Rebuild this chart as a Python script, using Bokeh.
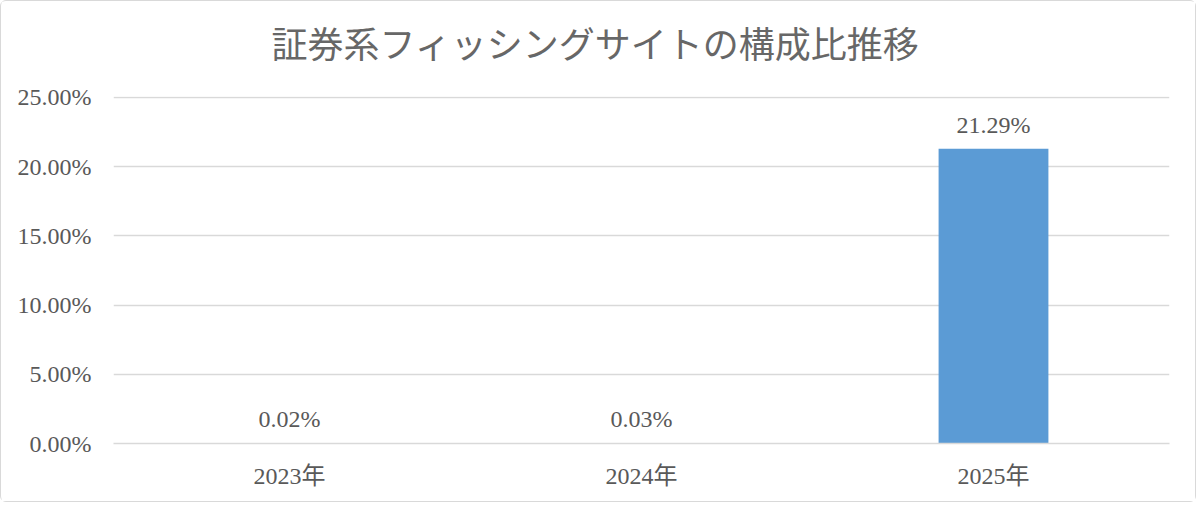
from bokeh.plotting import figure
from bokeh.models import ColumnDataSource, FactorRange, Range1d, FixedTicker, PrintfTickFormatter
from bokeh.core.properties import value
from bokeh.embed import file_html
from bokeh.resources import INLINE

title_text = "証券系フィッシングサイトの構成比推移"
years = ["2023年", "2024年", "2025年"]
shares = [0.02, 0.03, 21.29]
share_labels = ["0.02%", "0.03%", "21.29%"]
y_ticks = [0, 5, 10, 15, 20, 25]

SERIF = "Liberation Serif, Noto Sans CJK JP"
TEXT = "#595959"
GRID = "#D9D9D9"
BAR = "#5B9BD5"

source = ColumnDataSource(dict(year=years, share=shares, label=share_labels))

p = figure(
    width=1196, height=502,
    x_range=FactorRange(*years, range_padding=0),
    y_range=Range1d(0, 25.06),
    output_backend="svg", toolbar_location=None,
    min_border_left=112, min_border_right=28, min_border_top=95, min_border_bottom=60,
)
p.styles = {"border": "1.5px solid #D9D9D9", "border-radius": "6px"}
p.outline_line_color = None
p.background_fill_color = "white"
p.border_fill_color = "white"

p.title.text = title_text
p.title.align = "left"
p.title.text_font = "Noto Sans CJK JP"
p.title.text_font_size = "36px"
p.title.text_font_style = "normal"
p.title.text_color = "#676767"
p.title.offset = 158
p.title.standoff = 10
p.title.padding = dict(left=0, right=0, top=0, bottom=24)

p.vbar(x="year", top="share", width=0.312, source=source, fill_color=BAR, line_color=None)
p.text(x="year", y="share", text="label", source=source,
       text_align="center", text_baseline="alphabetic", y_offset=-24,
       text_font=value(SERIF), text_font_size="24px", text_color=TEXT)

p.yaxis.ticker = FixedTicker(ticks=y_ticks)
p.yaxis.formatter = PrintfTickFormatter(format="%.2f%%")
p.yaxis.axis_line_color = None
p.yaxis.major_tick_line_color = None
p.yaxis.minor_tick_line_color = None
p.yaxis.major_label_standoff = 16

p.xaxis.axis_line_color = GRID
p.xaxis.axis_line_width = 1.5
p.xaxis.major_tick_line_color = None
p.xaxis.minor_tick_line_color = None
p.xaxis.major_label_standoff = 13

for ax in (p.xaxis, p.yaxis):
    ax.major_label_text_font = SERIF
    ax.major_label_text_font_size = "24px"
    ax.major_label_text_color = TEXT

p.ygrid.grid_line_color = GRID
p.ygrid.grid_line_width = 1.5
p.xgrid.grid_line_color = None

open("out.html", "w").write(file_html(p, INLINE))
